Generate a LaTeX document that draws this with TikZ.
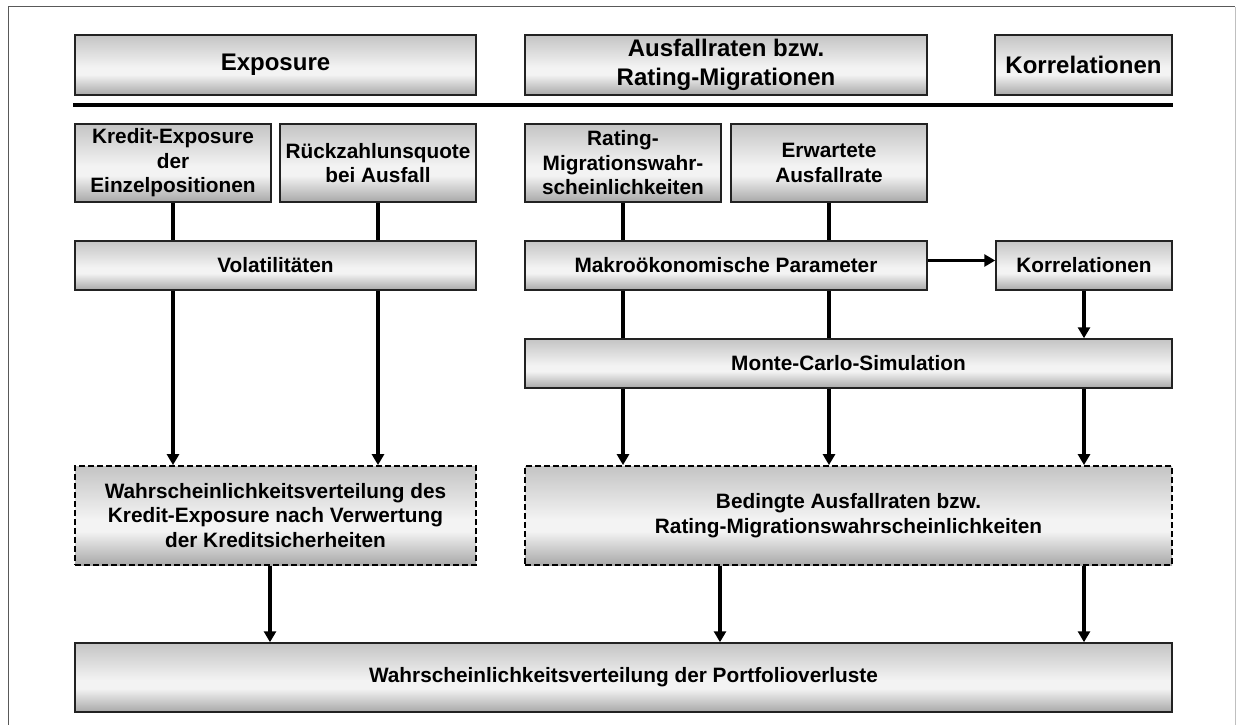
\documentclass[tikz,border=0pt]{standalone}
\usepackage{fontspec}
\setmainfont{Liberation Sans}
\usetikzlibrary{arrows.meta}
\definecolor{shT}{HTML}{C4C4C4}
\definecolor{shL}{HTML}{F3F3F3}
\definecolor{shB}{HTML}{A8A8A8}
\definecolor{edgecol}{HTML}{222222}
% grey box fill: darker top and bottom, light band below the middle
\pgfdeclareverticalshading{boxshade}{100bp}{color(0bp)=(shB); color(25bp)=(shB); color(42bp)=(shL); color(48bp)=(shL); color(75bp)=(shT); color(100bp)=(shT)}

\begin{document}
\begin{tikzpicture}[x=1pt,y=-1pt,
  box/.style={draw=edgecol, line width=1.5pt, shade, shading=boxshade, rectangle, inner sep=0pt,
    align=center, text=black, font=\fontsize{20.8}{24.5}\selectfont\bfseries},
  head/.style={box, font=\fontsize{24}{29}\selectfont\bfseries, minimum height=60pt},
  dbox/.style={box, draw=black, line width=1.8pt, dash pattern=on 6pt off 3pt},
  conn/.style={line width=3.6pt, draw=black},
  flow/.style={conn, -{Triangle[length=11pt,width=12pt]}},
]
\useasboundingbox (0,0) rectangle (1240,725);

% outer frame
\draw[line width=1pt, black!65] (8,725) -- (8,7) -- (1235,7);
\draw[line width=1pt, black!25] (1235,7) -- (1235,725);

% column headers
\node[head, minimum width=401pt] (hExp) at (275.5,65) {Exposure};
\node[head, minimum width=402pt] (hAus) at (726,65) {Ausfallraten bzw.\\Rating-Migrationen};
\node[head, minimum width=177pt] (hKor) at (1083.5,65) {Korrelationen};

% separator
\draw[line width=4pt] (73,105) -- (1173,105);

% inputs
\node[box, minimum width=196pt, minimum height=78pt] (kExp) at (173,163) {Kredit-Exposure\\der\\Einzelpositionen};
\node[box, minimum width=196pt, minimum height=78pt] (rQuo) at (378,163) {Rückzahlunsquote\\bei Ausfall};
\node[box, minimum width=196pt, minimum height=78pt] (rMig) at (623,163) {Rating-\\Migrationswahr-\\scheinlichkeiten};
\node[box, minimum width=196pt, minimum height=78pt] (eAus) at (829,163) {Erwartete\\Ausfallrate};

% second row
\node[box, minimum width=401pt, minimum height=49pt] (vol) at (275.5,265.5) {Volatilitäten};
\node[box, minimum width=402pt, minimum height=49pt] (makro) at (726,265.5) {Makroökonomische Parameter};
\node[box, minimum width=176pt, minimum height=49pt] (korr) at (1084,265.5) {Korrelationen};

% simulation
\node[box, minimum width=647pt, minimum height=49pt] (monte) at (848.5,363.5) {Monte-Carlo-Simulation};

% intermediate results
\node[dbox, minimum width=401pt, minimum height=99pt] (wvKE) at (275.5,515.5) {Wahrscheinlichkeitsverteilung des\\Kredit-Exposure nach Verwertung\\der Kreditsicherheiten};
\node[dbox, minimum width=647pt, minimum height=99pt] (bed) at (848.5,515.5) {Bedingte Ausfallraten bzw.\\Rating-Migrationswahrscheinlichkeiten};

% final result
\node[box, minimum width=1097pt, minimum height=69pt] (fin) at (623.5,677.5) {Wahrscheinlichkeitsverteilung der Portfolioverluste};

% exposure side
\draw[conn] (kExp.south) -- (kExp.south |- vol.north);
\draw[flow] (kExp.south |- vol.south) -- (kExp.south |- wvKE.north);
\draw[conn] (rQuo.south) -- (rQuo.south |- vol.north);
\draw[flow] (rQuo.south |- vol.south) -- (rQuo.south |- wvKE.north);

% default-rate side
\draw[conn] (rMig.south) -- (rMig.south |- makro.north);
\draw[conn] (rMig.south |- makro.south) -- (rMig.south |- monte.north);
\draw[flow] (rMig.south |- monte.south) -- (rMig.south |- bed.north);
\draw[conn] (eAus.south) -- (eAus.south |- makro.north);
\draw[conn] (eAus.south |- makro.south) -- (eAus.south |- monte.north);
\draw[flow] (eAus.south |- monte.south) -- (eAus.south |- bed.north);

% correlations
\draw[flow] ([yshift=5pt]makro.east) -- ([yshift=5pt]korr.west);
\draw[flow] (korr.south) -- (korr.south |- monte.north);
\draw[flow] (korr.south |- monte.south) -- (korr.south |- bed.north);

% into the portfolio loss distribution
\coordinate (wOut) at ([xshift=-5.5pt]wvKE.south);
\coordinate (bOut) at ([xshift=-128.5pt]bed.south);
\draw[flow] (wOut) -- (wOut |- fin.north);
\draw[flow] (bOut) -- (bOut |- fin.north);
\draw[flow] (korr.south |- bed.south) -- (korr.south |- fin.north);

\end{tikzpicture}
\end{document}
